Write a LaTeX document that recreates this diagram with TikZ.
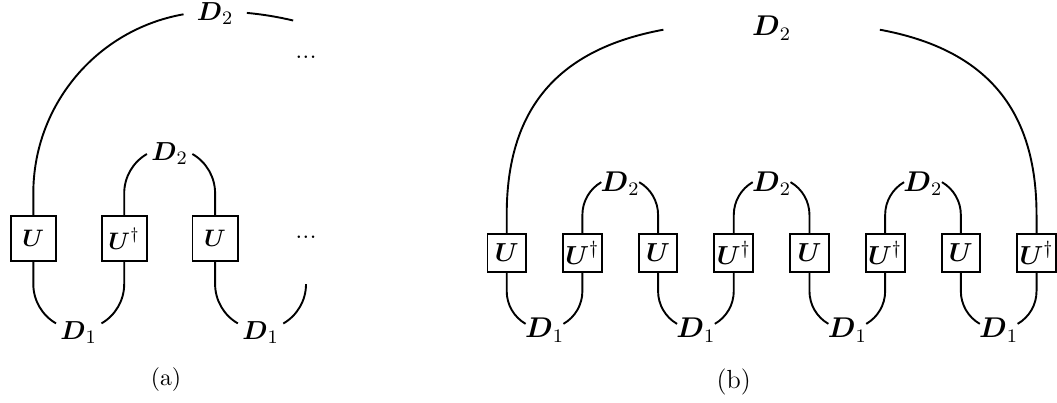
\documentclass[tikz,border=0pt]{standalone}
\usepackage{amsmath}
\tikzset{
  gate/.style={draw, thick, inner sep=1pt, outer sep=0pt},
  wire/.style={thick},
  lbl/.style={inner sep=1pt}
}
\begin{document}
\begin{tikzpicture}[x=0.42pt,y=0.42pt]
\useasboundingbox (0,0) rectangle (1057,402);
\begin{scope}[shift={(33.3,163.3)}, x=38.18pt, y=38.18pt,
    gate/.append style={minimum size=19pt, font=\fontsize{10}{12}\selectfont},
    lbl/.append style={font=\fontsize{11}{13}\selectfont}]
  \node[gate] (a0) at (0,0) {$\boldsymbol{U}$};
  \node[gate] (a1) at (1,0) {$\boldsymbol{U}^\dagger$};
  \node[gate] (a2) at (2,0) {$\boldsymbol{U}$};
  \node[lbl, anchor=base] (adots) at (3,0) {...};
  \node[lbl, anchor=base] (adotstop) at (3,1.98) {...};
  \coordinate (aend) at (3,-0.5);
  \node[lbl] (atop) at (2,2.48) {$\boldsymbol{D}_2$};
  \node[lbl] (amid) at (1.5,0.94) {$\boldsymbol{D}_2$};
  \node[lbl] (alow1) at (0.5,-1.03) {$\boldsymbol{D}_1$};
  \node[lbl] (alow2) at (2.5,-1.03) {$\boldsymbol{D}_1$};
  \draw[wire] (a0.north) -- ++(0,0.25) arc[start angle=180, end angle=100, radius=2];
  \draw[wire] (2.349,2.484) arc[start angle=82.7, end angle=71.8, x radius=2.75, y radius=2];
  \draw[wire] (a1.north) -- ++(0,0.25) arc[start angle=180, end angle=120, radius=0.5];
  \draw[wire] (a2.north) -- ++(0,0.25) arc[start angle=0, end angle=60, radius=0.5];
  \draw[wire] (a0.south) -- ++(0,-0.25) arc[start angle=180, end angle=240, radius=0.5];
  \draw[wire] (a1.south) -- ++(0,-0.25) arc[start angle=0, end angle=-60, radius=0.5];
  \draw[wire] (a2.south) -- ++(0,-0.25) arc[start angle=180, end angle=240, radius=0.5];
  \draw[wire] (aend) arc[start angle=0, end angle=-60, radius=0.5];
  \node (capa) at (1.46,-1.554) {(a)};
\end{scope}
\begin{scope}[shift={(506.7,149)}, x=31.79pt, y=31.79pt,
    gate/.append style={minimum size=16.1pt, font=\fontsize{10.8}{12}\selectfont},
    lbl/.append style={font=\fontsize{11.5}{13}\selectfont}]
  \node[gate] (b0) at (0,0) {$\boldsymbol{U}$};
  \node[gate] (b1) at (1,0) {$\boldsymbol{U}^\dagger$};
  \node[gate] (b2) at (2,0) {$\boldsymbol{U}$};
  \node[gate] (b3) at (3,0) {$\boldsymbol{U}^\dagger$};
  \node[gate] (b4) at (4,0) {$\boldsymbol{U}$};
  \node[gate] (b5) at (5,0) {$\boldsymbol{U}^\dagger$};
  \node[gate] (b6) at (6,0) {$\boldsymbol{U}$};
  \node[gate] (b7) at (7,0) {$\boldsymbol{U}^\dagger$};
  \node[lbl] (btop) at (3.5,2.97) {$\boldsymbol{D}_2$};
  \node[lbl] (bmid1) at (1.5,0.92) {$\boldsymbol{D}_2$};
  \node[lbl] (bmid2) at (3.5,0.92) {$\boldsymbol{D}_2$};
  \node[lbl] (bmid3) at (5.5,0.92) {$\boldsymbol{D}_2$};
  \node[lbl] (blow1) at (0.5,-1.02) {$\boldsymbol{D}_1$};
  \node[lbl] (blow2) at (2.5,-1.02) {$\boldsymbol{D}_1$};
  \node[lbl] (blow3) at (4.5,-1.02) {$\boldsymbol{D}_1$};
  \node[lbl] (blow4) at (6.5,-1.02) {$\boldsymbol{D}_1$};
  \draw[wire] (b0.north) -- ++(0,0.25) .. controls (0,1.893) and (0.659,2.69) .. (2.07,2.95);
  \draw[wire] (b7.north) -- ++(0,0.25) .. controls (7,1.893) and (6.341,2.69) .. (4.93,2.95);
  \draw[wire] (b1.north) -- ++(0,0.25) arc[start angle=180, end angle=120, radius=0.5];
  \draw[wire] (b2.north) -- ++(0,0.25) arc[start angle=0, end angle=60, radius=0.5];
  \draw[wire] (b3.north) -- ++(0,0.25) arc[start angle=180, end angle=120, radius=0.5];
  \draw[wire] (b4.north) -- ++(0,0.25) arc[start angle=0, end angle=60, radius=0.5];
  \draw[wire] (b5.north) -- ++(0,0.25) arc[start angle=180, end angle=120, radius=0.5];
  \draw[wire] (b6.north) -- ++(0,0.25) arc[start angle=0, end angle=60, radius=0.5];
  \draw[wire] (b0.south) -- ++(0,-0.25) arc[start angle=180, end angle=240, radius=0.5];
  \draw[wire] (b1.south) -- ++(0,-0.25) arc[start angle=0, end angle=-60, radius=0.5];
  \draw[wire] (b2.south) -- ++(0,-0.25) arc[start angle=180, end angle=240, radius=0.5];
  \draw[wire] (b3.south) -- ++(0,-0.25) arc[start angle=0, end angle=-60, radius=0.5];
  \draw[wire] (b4.south) -- ++(0,-0.25) arc[start angle=180, end angle=240, radius=0.5];
  \draw[wire] (b5.south) -- ++(0,-0.25) arc[start angle=0, end angle=-60, radius=0.5];
  \draw[wire] (b6.south) -- ++(0,-0.25) arc[start angle=180, end angle=240, radius=0.5];
  \draw[wire] (b7.south) -- ++(0,-0.25) arc[start angle=0, end angle=-60, radius=0.5];
  \node[font=\fontsize{11}{13}\selectfont] (capb) at (3.0,-1.70) {(b)};
\end{scope}
\end{tikzpicture}
\end{document}
